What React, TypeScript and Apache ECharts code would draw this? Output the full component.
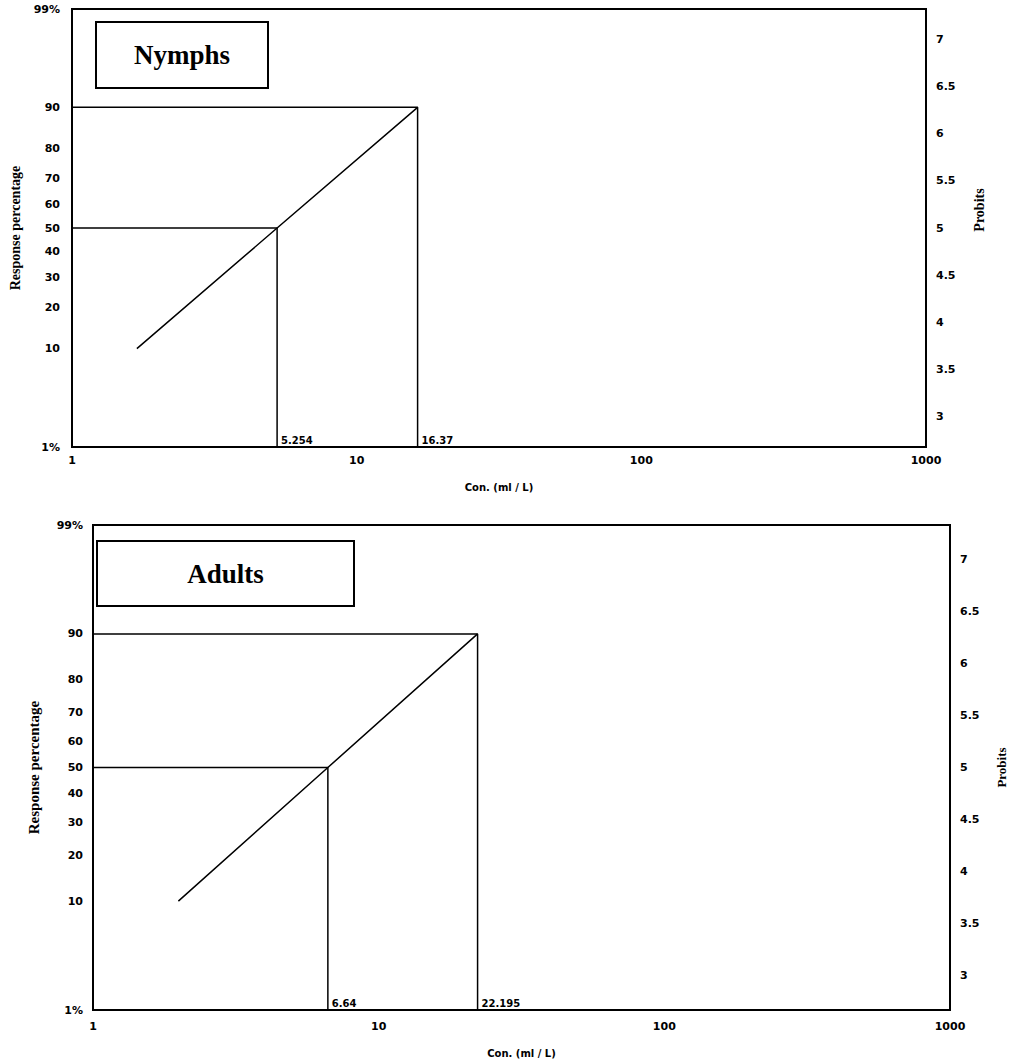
import React, { useEffect, useRef } from "react";
import * as echarts from "echarts";

// ---- data ----
const panelTitles = ["Nymphs", "Adults"];
const responsePercents = [10, 50, 90]; // response levels of the regression line
const nymphConc = [1.69, 5.254, 16.37]; // LC10, LC50, LC90 (ml/L)
const adultConc = [1.99, 6.64, 22.195];
const leftTickPercents = [1, 10, 20, 30, 40, 50, 60, 70, 80, 90, 99];
const rightTickProbits = [3, 3.5, 4, 4.5, 5, 5.5, 6, 6.5, 7];
const xTicks = [1, 10, 100, 1000];
const xName = "Con. (ml / L)";
const yLeftName = "Response percentage";
const yRightName = "Probits";

// probit scale: 5 + inverse standard normal CDF (Acklam)
function probit(percent: number): number {
  const p = percent / 100;
  const a = [-39.69683028665376, 220.9460984245205, -275.9285104469687, 138.357751867269, -30.66479806614716, 2.506628277459239];
  const b = [-54.47609879822406, 161.5858368580409, -155.6989798598866, 66.80131188771972, -13.28068155288572];
  const c = [-0.007784894002430293, -0.3223964580411365, -2.400758277161838, -2.549671348960019, 4.374664141464968, 2.938163982698783];
  const d = [0.007784695709041462, 0.3224671290700398, 2.445134137142996, 3.754408661907416];
  const plow = 0.02425;
  let x: number;
  if (p < plow) {
    const q = Math.sqrt(-2 * Math.log(p));
    x = (((((c[0] * q + c[1]) * q + c[2]) * q + c[3]) * q + c[4]) * q + c[5]) /
      ((((d[0] * q + d[1]) * q + d[2]) * q + d[3]) * q + 1);
  } else if (p <= 1 - plow) {
    const q = p - 0.5;
    const r = q * q;
    x = ((((((a[0] * r + a[1]) * r + a[2]) * r + a[3]) * r + a[4]) * r + a[5]) * q) /
      (((((b[0] * r + b[1]) * r + b[2]) * r + b[3]) * r + b[4]) * r + 1);
  } else {
    const q = Math.sqrt(-2 * Math.log(1 - p));
    x = -(((((c[0] * q + c[1]) * q + c[2]) * q + c[3]) * q + c[4]) * q + c[5]) /
      ((((d[0] * q + d[1]) * q + d[2]) * q + d[3]) * q + 1);
  }
  return 5 + x;
}

const yMin = probit(1);
const yMax = probit(99);

function leftLabel(v: number): string {
  for (const p of leftTickPercents) {
    if (Math.abs(probit(p) - v) < 1e-6) {
      return p === 1 || p === 99 ? p + "%" : String(p);
    }
  }
  return "";
}

const tickFont = { fontFamily: "DejaVu Sans", fontWeight: "bold" as const, fontSize: 11, color: "#000" };

export default function App() {
  const ref = useRef<HTMLDivElement>(null);

  useEffect(() => {
    if (!ref.current) return;
    const chart = echarts.init(ref.current, null, { renderer: "svg" });

    const grids = [
      { left: 72, top: 9, width: 854, height: 438, show: true, borderColor: "#000", borderWidth: 2, backgroundColor: "transparent", containLabel: false, outerBoundsMode: "none" },
      { left: 93, top: 525, width: 857, height: 485, show: true, borderColor: "#000", borderWidth: 2, backgroundColor: "transparent", containLabel: false, outerBoundsMode: "none" },
    ];

    const xAxes = [0, 1].map((i) => ({
      type: "log" as const,
      logBase: 10,
      gridIndex: i,
      min: xTicks[0],
      max: xTicks[xTicks.length - 1],
      axisLine: { show: false },
      axisTick: { show: false },
      minorTick: { show: false },
      splitLine: { show: false },
      axisLabel: { ...tickFont, margin: i === 0 ? 8 : 11, formatter: (v: number) => String(v) },
      name: xName,
      nameLocation: "middle" as const,
      nameGap: i === 0 ? 35 : 38,
      nameTextStyle: { fontFamily: "DejaVu Sans", fontSize: 10, fontWeight: "bold" as const, color: "#000" },
    }));

    const yAxes: any[] = [];
    [0, 1].forEach((i) => {
      yAxes.push({
        type: "value",
        gridIndex: i,
        position: "left",
        min: yMin,
        max: yMax,
        axisLine: { show: false },
        axisTick: { show: false },
        splitLine: { show: false },
        axisLabel: {
          ...tickFont,
          margin: i === 0 ? 12 : 10,
          customValues: leftTickPercents.map(probit),
          formatter: (v: number) => leftLabel(v),
        },
        name: yLeftName,
        nameLocation: "middle",
        nameRotate: 90,
        nameGap: i === 0 ? 50 : 52,
        nameTextStyle: { fontFamily: "Liberation Serif", fontSize: i === 0 ? 14 : 15, fontWeight: "bold", color: "#000" },
      });
      yAxes.push({
        type: "value",
        gridIndex: i,
        position: "right",
        min: yMin,
        max: yMax,
        axisLine: { show: false },
        axisTick: { show: false },
        splitLine: { show: false },
        axisLabel: {
          ...tickFont,
          margin: 10,
          customValues: rightTickProbits,
          formatter: (v: number) => String(v),
        },
        name: yRightName,
        nameLocation: "middle",
        nameRotate: 90,
        nameGap: i === 0 ? 46 : 45,
        nameTextStyle: {
          fontFamily: "Liberation Serif",
          fontSize: i === 0 ? 14 : 13,
          fontWeight: "bold",
          color: "#000",
          padding: i === 0 ? [0, 0, 0, 36] : 0,
        },
      });
    });

    const panels = [nymphConc, adultConc];
    const series: any[] = [];
    panels.forEach((conc, i) => {
      const lineStyle = { color: "#000", width: 1.5 };
      // regression line
      series.push({
        type: "line",
        xAxisIndex: i,
        yAxisIndex: i * 2,
        symbol: "none",
        lineStyle,
        data: responsePercents.map((p, k) => [conc[k], probit(p)]),
        silent: true,
      });
      // LC50 and LC90 reference lines (horizontal to the left axis, vertical down to 1%)
      [1, 2].forEach((k) => {
        series.push({
          type: "line",
          xAxisIndex: i,
          yAxisIndex: i * 2,
          symbol: "none",
          lineStyle,
          data: [
            [xTicks[0], probit(responsePercents[k])],
            [conc[k], probit(responsePercents[k])],
            [conc[k], yMin],
          ],
          silent: true,
        });
      });
      // value labels at the bottom
      series.push({
        type: "scatter",
        xAxisIndex: i,
        yAxisIndex: i * 2,
        symbolSize: 0,
        data: [1, 2].map((k) => [conc[k], yMin]),
        label: {
          show: true,
          position: [4, -12],
          formatter: (p: any) => String(p.value[0]),
          fontFamily: "DejaVu Sans",
          fontSize: 10,
          fontWeight: "bold",
          color: "#000",
          opacity: 1,
        },
        itemStyle: { opacity: 1 },
        silent: true,
      });
    });

    const boxes = [
      { x: 96, y: 22, w: 172, h: 66 },
      { x: 97, y: 541, w: 257, h: 65 },
    ];

    chart.setOption({
      animation: false,
      backgroundColor: "#fff",
      grid: grids,
      xAxis: xAxes,
      yAxis: yAxes,
      series,
      graphic: boxes.map((b, i) => ({
        type: "group",
        children: [
          {
            type: "rect",
            shape: { x: b.x, y: b.y, width: b.w, height: b.h },
            style: { fill: "#fff", stroke: "#000", lineWidth: 2 },
          },
          {
            type: "text",
            x: b.x + b.w / 2,
            y: b.y + b.h / 2,
            style: {
              text: panelTitles[i],
              fontFamily: "Liberation Serif",
              fontWeight: "bold",
              fontSize: 27,
              fill: "#000",
              align: "center",
              verticalAlign: "middle",
            },
          },
        ],
      })),
    });

    return () => chart.dispose();
  }, []);

  return (
    <div
      ref={ref}
      style={{ position: "absolute", left: 0, top: 0, width: 1009, height: 1061, background: "#fff" }}
    />
  );
}
